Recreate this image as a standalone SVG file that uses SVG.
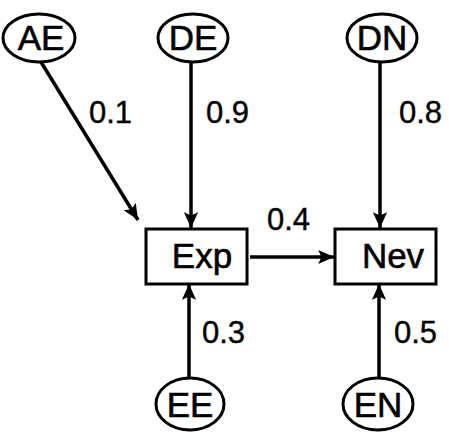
<svg xmlns="http://www.w3.org/2000/svg" width="449" height="432" viewBox="0 0 449 432">
  <style>
    .node ellipse, .node rect { fill: #fff; stroke: #000; stroke-width: 3; }
    .node text { font-family: "Liberation Sans", Arial, sans-serif; font-size: 35px; text-anchor: middle; fill: #000; stroke: #000; stroke-width: 0.6; }
    .edges line { stroke: #000; stroke-width: 3.5; marker-end: url(#arrow); }
    .lbl { font-family: "Liberation Sans", Arial, sans-serif; font-size: 31px; fill: #000; stroke: #000; stroke-width: 0.4; }
  </style>
  <defs>
    <marker id="arrow" viewBox="0 0 10 10" refX="10" refY="5" markerWidth="4.5" markerHeight="4.5" orient="auto" markerUnits="strokeWidth">
      <path d="M0,0.5 L10,5 L0,9.5 L2,5 z" fill="#000"/>
    </marker>
  </defs>
  <rect width="449" height="432" fill="#fff"/>

  <g class="edges">
    <line x1="41" y1="62" x2="138" y2="220"/>
    <line x1="191" y1="62" x2="191" y2="228"/>
    <line x1="380" y1="62" x2="380" y2="228"/>
    <line x1="250" y1="257" x2="334" y2="257"/>
    <line x1="189" y1="378" x2="189" y2="284"/>
    <line x1="379" y1="378" x2="379" y2="284"/>
    <text class="lbl" x="89" y="123">0.1</text>
    <text class="lbl" x="206" y="123">0.9</text>
    <text class="lbl" x="399" y="123">0.8</text>
    <text class="lbl" x="267" y="230">0.4</text>
    <text class="lbl" x="202" y="343">0.3</text>
    <text class="lbl" x="394" y="343">0.5</text>
  </g>

  <g id="AE" class="node"><ellipse cx="39" cy="38" rx="36" ry="24"/><text x="41" y="50">AE</text></g>
  <g id="DE" class="node"><ellipse cx="193" cy="38" rx="35" ry="24"/><text x="193" y="50">DE</text></g>
  <g id="DN" class="node"><ellipse cx="382" cy="38" rx="35" ry="24"/><text x="382" y="50">DN</text></g>
  <g id="Exp" class="node"><rect x="146" y="229" width="101" height="55"/><text x="202" y="268">Exp</text></g>
  <g id="Nev" class="node"><rect x="335" y="229" width="101" height="55"/><text x="393" y="268">Nev</text></g>
  <g id="EE" class="node"><ellipse cx="190" cy="404" rx="34" ry="26"/><text x="190" y="417">EE</text></g>
  <g id="EN" class="node"><ellipse cx="378" cy="404" rx="35" ry="26"/><text x="378" y="417">EN</text></g>
</svg>
